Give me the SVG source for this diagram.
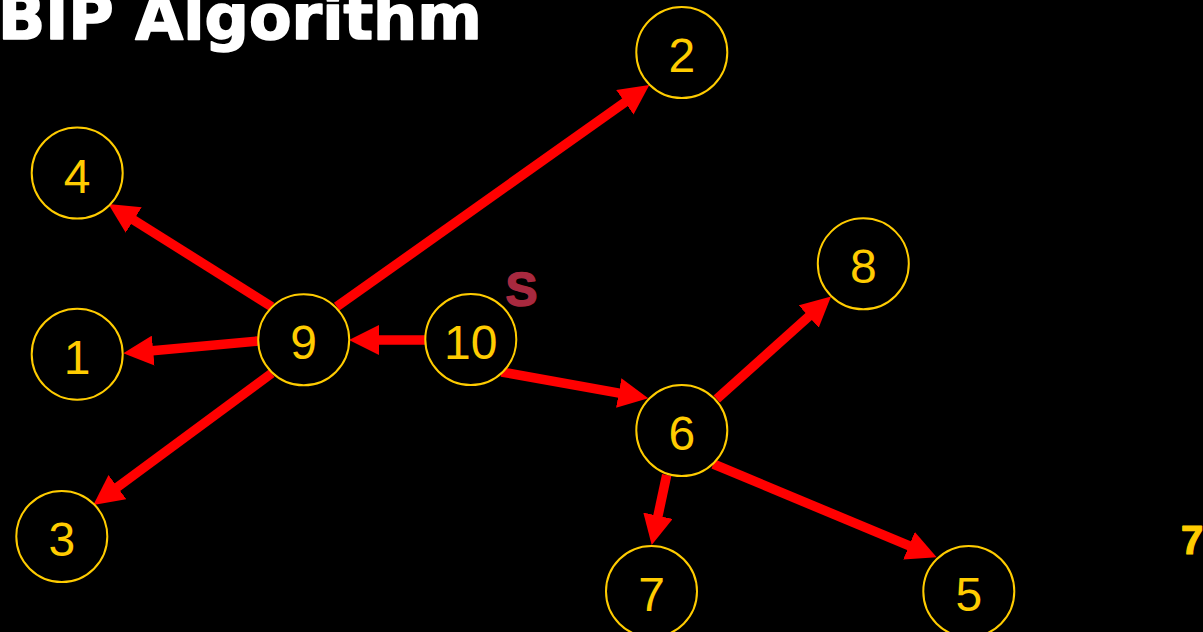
<svg xmlns="http://www.w3.org/2000/svg" width="1203" height="632" viewBox="0 0 1203 632">
  <style>
    .node circle { fill: #000000; stroke: #FFCC00; stroke-width: 2; }
    .node text { fill: #FFCC00; font-family: "Liberation Sans", Arial, sans-serif; font-size: 48px; text-anchor: middle; }
    .edge { stroke: #FF0000; stroke-width: 9.5; fill: none; marker-end: url(#arrow); }
  </style>
  <defs>
    <marker id="arrow" markerUnits="userSpaceOnUse" markerWidth="30" markerHeight="30" viewBox="0 0 30 30" refX="9" refY="15" orient="auto">
      <path d="M0,0 L30,15 L0,30 z" fill="#FF0000"/>
    </marker>
  </defs>
  <rect x="0" y="0" width="1203" height="632" fill="#000000"/>
  <text x="-2" y="39" font-family="'DejaVu Sans', Verdana, sans-serif" font-weight="bold" font-size="62" fill="#FFFFFF" stroke="#FFFFFF" stroke-width="1.6" stroke-linejoin="round">BIP Algorithm</text>

  <g id="connectors">
    <line class="edge" x1="336.7" y1="306.7" x2="632.2" y2="97.1"/>
    <line class="edge" x1="271.7" y1="306.7" x2="126.1" y2="215.2"/>
    <line class="edge" x1="258.3" y1="341" x2="144.2" y2="351.4"/>
    <line class="edge" x1="271.7" y1="373.3" x2="110.2" y2="492.5"/>
    <line class="edge" x1="425" y1="340" x2="370" y2="340"/>
    <line class="edge" x1="501.5" y1="372" x2="627.6" y2="394.6"/>
    <line class="edge" x1="716.7" y1="399" x2="815.4" y2="310.5"/>
    <line class="edge" x1="666.7" y1="475" x2="656.1" y2="524.5"/>
    <line class="edge" x1="713.3" y1="464" x2="917.3" y2="549.2"/>
  </g>

  <g id="node-2" class="node"><circle cx="681.8" cy="52.5" r="45.5"/><text x="681.8" y="72">2</text></g>
  <g id="node-4" class="node"><circle cx="77.2" cy="173" r="45.5"/><text x="77.2" y="192.5">4</text></g>
  <g id="node-8" class="node"><circle cx="863.3" cy="263.8" r="45.5"/><text x="863.3" y="283.3">8</text></g>
  <g id="node-1" class="node"><circle cx="77.2" cy="354.2" r="45.5"/><text x="77.2" y="373.7">1</text></g>
  <g id="node-9" class="node"><circle cx="303.7" cy="339.8" r="45.5"/><text x="303.7" y="359.3">9</text></g>
  <g id="node-10" class="node"><circle cx="470.8" cy="339.5" r="45.5"/><text x="470.8" y="359">10</text></g>
  <g id="node-6" class="node"><circle cx="681.8" cy="430.5" r="45.5"/><text x="681.8" y="450">6</text></g>
  <g id="node-3" class="node"><circle cx="61.8" cy="536.5" r="45.5"/><text x="61.8" y="556">3</text></g>
  <g id="node-7" class="node"><circle cx="651.5" cy="591.5" r="45.5"/><text x="651.5" y="611">7</text></g>
  <g id="node-5" class="node"><circle cx="968.8" cy="591.5" r="45.5"/><text x="968.8" y="611">5</text></g>

  <text x="521.5" y="306" font-family="'Liberation Sans', Arial, sans-serif" font-weight="bold" font-size="48" fill="#A8293F" stroke="#A8293F" stroke-width="1.5" stroke-linejoin="round" text-anchor="middle">S</text>
  <text x="1181" y="554" font-family="'Liberation Sans', Arial, sans-serif" font-weight="bold" font-size="40" fill="#FFCC00" stroke="#FFCC00" stroke-width="1.2" stroke-linejoin="round">7</text>
</svg>
